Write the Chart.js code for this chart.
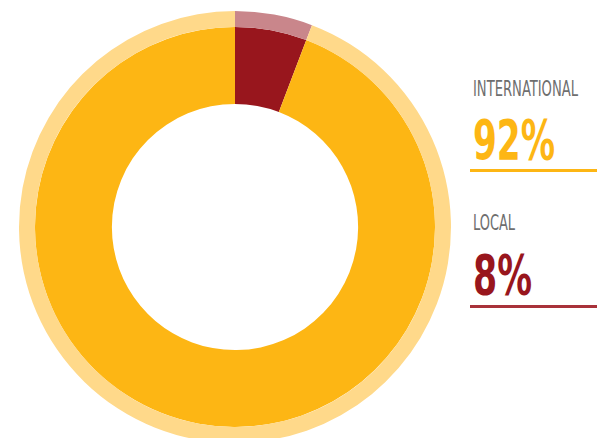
<!DOCTYPE html>
<html>
<head>
<meta charset="utf-8">
<script src="https://cdn.jsdelivr.net/npm/chart.js@4"></script>
<style>
  html, body { margin: 0; padding: 0; background: #fff; overflow: hidden; }
  #wrap { position: relative; width: 597px; height: 438px; }
  #chart-box { position: absolute; left: 0; top: 0; width: 470px; height: 454px; }
  .lbl { position: absolute; left: 473px; font-family: "Liberation Sans Narrow", "DejaVu Sans Condensed", "Liberation Sans", sans-serif; white-space: nowrap; transform-origin: 0 0; line-height: 1; }
  .name { color: #6e6e6e; font-size: 21px; }
  .pct { font-weight: bold; font-size: 55px; }
  .rule { position: absolute; left: 470px; width: 127px; height: 3px; }
</style>
</head>
<body>
<div id="wrap">
  <div id="chart-box"><canvas id="share-chart"></canvas></div>
</div>
<script>
// categorias e valores (fatias)
const categories = ["LOCAL", "INTERNATIONAL"];
const sliceValues = [5.8, 94.2];
const pctLabels = ["8%", "92%"];
const darkColors = ["#98161d", "#fdb614"];
const lightColors = ["#c9868b", "#ffd98a"];

const SChart = document.getElementById("share-chart");

const graficoShare = new Chart(SChart, {
  type: "doughnut",
  data: {
    labels: categories,
    datasets: [
      {
        label: "anel",
        data: sliceValues,
        backgroundColor: lightColors,
        borderWidth: 0,
        weight: 16,
      },
      {
        label: "share",
        data: sliceValues,
        backgroundColor: darkColors,
        borderWidth: 0,
        weight: 77,
      },
    ],
  },
  options: {
    responsive: true,
    maintainAspectRatio: false,
    animation: false,
    radius: 216,
    cutout: "57%",
    layout: { padding: 0 },
    plugins: {
      legend: { display: false },
      tooltip: { enabled: false },
    },
  },
});

// textos da lateral
const wrap = document.getElementById("wrap");
const blocks = [
  { idx: 1, nameTop: 79, pctTop: 113, ruleTop: 169, nameW: 105, pctW: 82, ruleColor: "#fdb614" },
  { idx: 0, nameTop: 213, pctTop: 248, ruleTop: 305, nameW: 42, pctW: 59, ruleColor: "#a8323a" },
];

function fitWidth(el, w) {
  const r = el.getBoundingClientRect();
  el.style.transform = "scaleX(" + w / r.width + ")";
}

blocks.forEach((b) => {
  const name = document.createElement("div");
  name.className = "lbl name";
  name.style.top = b.nameTop + "px";
  name.textContent = categories[b.idx];
  wrap.appendChild(name);
  fitWidth(name, b.nameW);

  const pct = document.createElement("div");
  pct.className = "lbl pct";
  pct.style.top = b.pctTop + "px";
  pct.style.color = darkColors[b.idx];
  pct.textContent = pctLabels[b.idx];
  wrap.appendChild(pct);
  fitWidth(pct, b.pctW);

  const rule = document.createElement("div");
  rule.className = "rule";
  rule.style.top = b.ruleTop + "px";
  rule.style.background = b.ruleColor;
  wrap.appendChild(rule);
});
</script>
</body>
</html>
